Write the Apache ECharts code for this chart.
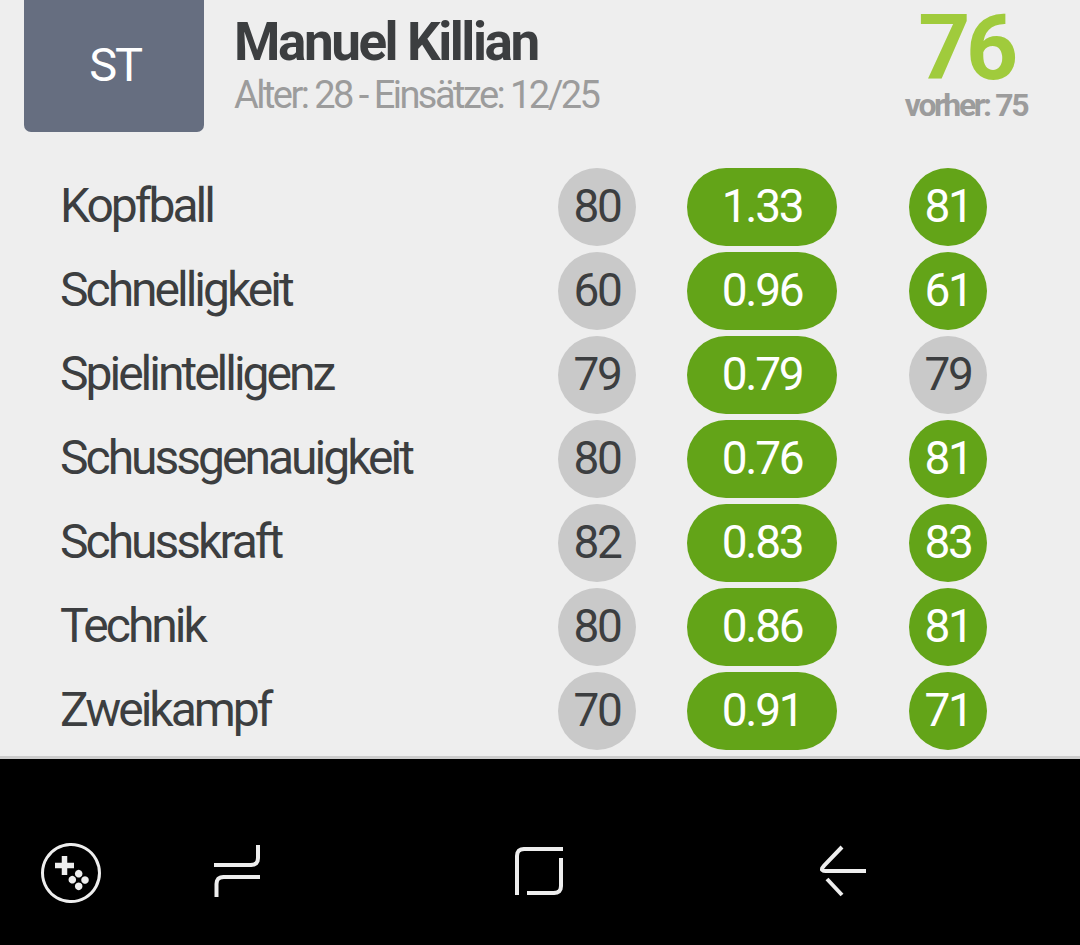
<!DOCTYPE html>
<html>
<head>
<meta charset="utf-8">
<style>
  html, body { margin: 0; padding: 0; background: #eeeeee; }
  #chart { width: 1080px; height: 945px; }
  #chart svg text { letter-spacing: -0.05em; }
  #chart svg text[style*="48px"] { letter-spacing: -0.0625em; }
  #chart svg text[style*="53px"] { letter-spacing: -0.046em; }
  #chart svg text[style*="38px"] { letter-spacing: -0.067em; }
  #chart svg text[style*="32px"] { letter-spacing: -0.075em; }
</style>
<script src="https://cdn.jsdelivr.net/npm/echarts@6/dist/echarts.min.js"></script>
</head>
<body>
<div id="chart"></div>
<script>
  const attributes = ['Kopfball', 'Schnelligkeit', 'Spielintelligenz', 'Schussgenauigkeit', 'Schusskraft', 'Technik', 'Zweikampf'];
  const before = [80, 60, 79, 80, 82, 80, 70];
  const gain = ['1.33', '0.96', '0.79', '0.76', '0.83', '0.86', '0.91'];
  const after = [81, 61, 79, 81, 83, 81, 71];

  const GREEN = '#63a418';
  const GREY = '#c9c9c9';
  const DARK = '#3c3e40';
  const FONT = 'Roboto';

  // attribute names, left aligned at x
  function nameColumn(x) {
    return {
      name: 'Attribut',
      type: 'custom',
      silent: true,
      data: attributes.map((a, i) => [x, i]),
      encode: { x: 0, y: 1 },
      renderItem: function (params, api) {
        const c = api.coord([api.value(0), api.value(1)]);
        return {
          type: 'text',
          style: {
            x: c[0], y: c[1] - 2,
            text: attributes[params.dataIndex],
            align: 'left', verticalAlign: 'middle',
            fontFamily: FONT, fontSize: 48, fontWeight: 400,
            fill: DARK
          }
        };
      }
    };
  }

  // one column of rounded marks, centred on x
  function column(name, x, width, values, fillOf, textOf) {
    return {
      name: name,
      type: 'custom',
      silent: true,
      data: values.map((v, i) => [x, i]),
      encode: { x: 0, y: 1 },
      renderItem: function (params, api) {
        const c = api.coord([api.value(0), api.value(1)]);
        const h = 78;
        const v = values[params.dataIndex];
        return {
          type: 'group',
          children: [
            {
              type: 'rect',
              shape: { x: c[0] - width / 2, y: c[1] - h / 2, width: width, height: h, r: h / 2 },
              style: { fill: fillOf(v, params.dataIndex) }
            },
            {
              type: 'text',
              style: {
                x: c[0], y: c[1] - 1,
                text: String(v),
                align: 'center', verticalAlign: 'middle',
                fontFamily: FONT, fontSize: 46, fontWeight: 400,
                fill: textOf(v, params.dataIndex)
              }
            }
          ]
        };
      }
    };
  }

  const changed = (v, i) => after[i] !== before[i];

  // nav bar icon stroke: straight runs with one rounded corner at the middle point
  function navLine(a, corner, b) {
    const pts = [a];
    const r = 7;
    const d1 = Math.hypot(corner[0] - a[0], corner[1] - a[1]);
    const d2 = Math.hypot(b[0] - corner[0], b[1] - corner[1]);
    const p0 = [corner[0] + (a[0] - corner[0]) * r / d1, corner[1] + (a[1] - corner[1]) * r / d1];
    const p1 = [corner[0] + (b[0] - corner[0]) * r / d2, corner[1] + (b[1] - corner[1]) * r / d2];
    for (let t = 0; t <= 1; t += 0.25) {
      pts.push([
        (1 - t) * (1 - t) * p0[0] + 2 * t * (1 - t) * corner[0] + t * t * p1[0],
        (1 - t) * (1 - t) * p0[1] + 2 * t * (1 - t) * corner[1] + t * t * p1[1]
      ]);
    }
    pts.push(b);
    return {
      type: 'polyline',
      shape: { points: pts },
      style: { fill: 'none', stroke: '#eeeeee', lineWidth: 4, lineJoin: 'round' }
    };
  }
  const navBar = (x1, y1, x2, y2, w) => ({
    type: 'line',
    shape: { x1: x1, y1: y1, x2: x2, y2: y2 },
    style: { stroke: '#eeeeee', lineWidth: w || 4 }
  });
  const navDot = (cx, cy) => ({ type: 'circle', shape: { cx: cx, cy: cy, r: 3.8 }, style: { fill: '#eeeeee' } });

  const option = {
    animation: false,
    backgroundColor: '#eeeeee',
    grid: { left: 0, right: 0, top: 165, height: 588 },
    xAxis: { type: 'value', min: 0, max: 1080, show: false },
    yAxis: {
      type: 'category',
      inverse: true,
      data: attributes,
      axisLine: { show: false },
      axisTick: { show: false },
      splitLine: { show: false },
      axisLabel: { show: false }
    },
    series: [
      nameColumn(60),
      column('vorher', 597, 78, before, () => GREY, () => DARK),
      column('Zuwachs', 762, 150, gain, () => GREEN, () => '#ffffff'),
      column('nachher', 948, 78, after,
        (v, i) => (changed(v, i) ? GREEN : GREY),
        (v, i) => (changed(v, i) ? '#ffffff' : DARK))
    ],
    graphic: [
      { type: 'rect', shape: { x: 24, y: -8, width: 180, height: 140, r: 7 }, style: { fill: '#666e80' } },
      { type: 'text', style: { x: 115, y: 64, text: 'ST', align: 'center', verticalAlign: 'middle', fontFamily: FONT, fontSize: 47, fontWeight: 400, fill: '#ffffff' } },
      { type: 'text', style: { x: 234, y: 42, text: 'Manuel Killian', align: 'left', verticalAlign: 'middle', fontFamily: FONT, fontSize: 53, fontWeight: 700, fill: DARK } },
      { type: 'text', style: { x: 234, y: 95, text: 'Alter: 28 - Einsätze: 12/25', align: 'left', verticalAlign: 'middle', fontFamily: FONT, fontSize: 38, fontWeight: 400, fill: '#9c9c9c' } },
      { type: 'text', style: { x: 966, y: 48, text: '76', align: 'center', verticalAlign: 'middle', fontFamily: FONT, fontSize: 91, fontWeight: 700, fill: '#a0cb3c' } },
      { type: 'text', style: { x: 966, y: 105, text: 'vorher: 75', align: 'center', verticalAlign: 'middle', fontFamily: FONT, fontSize: 32, fontWeight: 700, fill: '#9c9c9c' } },

      // system navigation bar
      { type: 'rect', shape: { x: 0, y: 756, width: 1080, height: 3 }, style: { fill: '#cccccc' } },
      { type: 'rect', shape: { x: 0, y: 759, width: 1080, height: 186 }, style: { fill: '#000000' } },
      { type: 'circle', shape: { cx: 71, cy: 873, r: 28.5 }, style: { fill: 'none', stroke: '#eeeeee', lineWidth: 3 } },
      navBar(55, 865.5, 74, 865.5, 5.5),
      navBar(64.5, 856, 64.5, 875, 5.5),
      navDot(78.7, 873.7),
      navDot(72.3, 879.7),
      navDot(85, 880),
      navDot(78.7, 886.3),
      navLine([258, 845], [258, 865], [214, 865]),
      navLine([216.5, 897], [216.5, 877], [260, 877]),
      navLine([563, 849], [517, 849], [517, 895]),
      navLine([561, 858], [561, 893], [527, 893]),
      navLine([842, 847], [819, 871], [866, 871]),
      navBar(827, 879, 842, 895)
    ]
  };

  const chart = echarts.init(document.getElementById('chart'), null, { renderer: 'svg' });
  chart.setOption(option);
</script>
</body>
</html>
